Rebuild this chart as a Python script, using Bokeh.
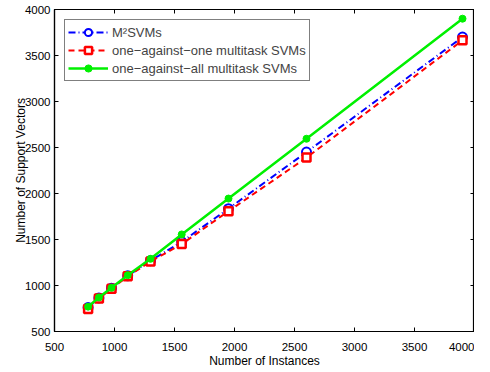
from bokeh.plotting import figure
from bokeh.models import Range1d, LinearAxis, Legend, LegendItem, FixedTicker
from bokeh.embed import file_html
from bokeh.resources import INLINE

instances = [780, 870, 975, 1110, 1300, 1560, 1950, 2600, 3900]
m2svms = [760, 865, 970, 1105, 1270, 1475, 1835, 2450, 3700]
one_vs_one = [745, 858, 965, 1100, 1260, 1450, 1808, 2390, 3665]
one_vs_all = [770, 870, 975, 1112, 1290, 1555, 1945, 2595, 3900]
x_ticks = [500, 1000, 1500, 2000, 2500, 3000, 3500, 4000]
y_ticks = [500, 1000, 1500, 2000, 2500, 3000, 3500, 4000]

FONT = "Liberation Sans"

p = figure(width=474, height=370, output_backend="svg", toolbar_location=None,
           x_range=Range1d(500, 4000), y_range=Range1d(500, 4000),
           min_border_left=54, min_border_right=0, min_border_top=9, min_border_bottom=0,
           x_axis_label="Number of Instances", y_axis_label="Number of Support Vectors")
p.xgrid.visible = False
p.ygrid.visible = False
p.outline_line_color = "black"
p.outline_line_width = 1.2
p.background_fill_color = "white"
p.border_fill_color = "white"

for ax in p.xaxis + p.yaxis:
    ax.ticker = FixedTicker(ticks=x_ticks if ax in p.xaxis else y_ticks)
    ax.major_tick_in = 4
    ax.major_tick_out = 0
    ax.minor_tick_in = 0
    ax.minor_tick_out = 0
    ax.axis_line_color = "black"
    ax.axis_line_width = 1.2
    ax.major_label_text_font = FONT
    ax.major_label_text_font_size = "11.5px"
    ax.major_label_text_color = "black"
    ax.axis_label_text_font = FONT
    ax.axis_label_text_font_size = "12px"
    ax.axis_label_text_font_style = "normal"
    ax.axis_label_text_color = "black"

p.xaxis.major_label_standoff = 11
p.xaxis.axis_label_standoff = 0
p.yaxis.major_label_standoff = 4
p.yaxis.axis_label_standoff = -6

for loc, ticks in (("above", x_ticks), ("right", y_ticks)):
    extra = LinearAxis(ticker=FixedTicker(ticks=ticks), major_tick_in=4, major_tick_out=0,
                       minor_tick_in=0, minor_tick_out=0,
                       major_label_overrides={t: "" for t in ticks},
                       major_label_text_color=None, major_label_standoff=0,
                       axis_line_color="black", axis_line_width=1.2)
    p.add_layout(extra, loc)

l1 = p.line(instances, m2svms, line_color="blue", line_width=2, line_dash="7 3 1 3")
s1 = p.scatter(instances, m2svms, marker="circle", size=9, line_color="blue",
               line_width=2, fill_color="white")
l2 = p.line(instances, one_vs_one, line_color="red", line_width=2, line_dash="6 4")
s2 = p.scatter(instances, one_vs_one, marker="square", size=8, line_color="red",
               line_width=2.5, fill_color="white")
l3 = p.line(instances, one_vs_all, line_color="#00f000", line_width=2.5)
s3 = p.scatter(instances, one_vs_all, marker="circle", size=7, line_color="#00f000",
               fill_color="#00f000")

legend = Legend(items=[
    LegendItem(label="M²SVMs", renderers=[l1, s1]),
    LegendItem(label="one\u2212against\u2212one multitask SVMs", renderers=[l2, s2]),
    LegendItem(label="one\u2212against\u2212all multitask SVMs", renderers=[l3, s3]),
], location="top_left")
legend.label_text_font = FONT
legend.label_text_font_size = "13px"
legend.label_standoff = 4
legend.glyph_width = 40
legend.glyph_height = 18
legend.spacing = 0
legend.padding = 3
legend.margin = 10
legend.border_line_color = "black"
legend.border_line_width = 1
p.add_layout(legend)

open("out.html", "w").write(file_html(p, INLINE))
